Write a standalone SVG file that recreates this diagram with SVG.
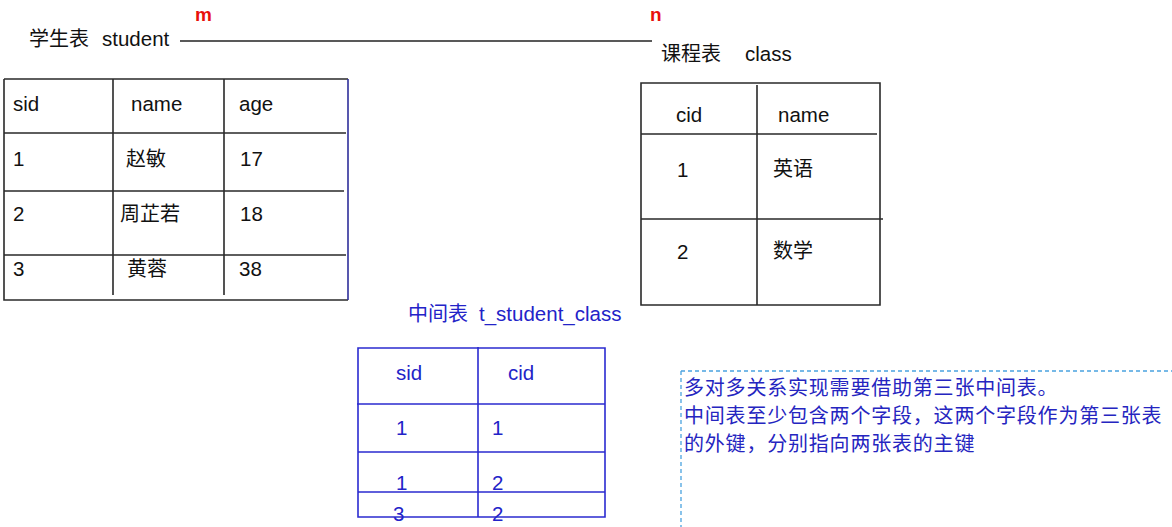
<svg xmlns="http://www.w3.org/2000/svg" width="1172" height="527" viewBox="0 0 1172 527">
<style>
text{font-family:"Liberation Sans","Noto Sans CJK SC",sans-serif;font-size:20.5px;fill:#111}
.cn{font-size:20px}
.red{fill:#e8100c;font-weight:bold;font-size:19px}
.blue{fill:#2323c8}
.tb{fill:none;stroke:#2a2a2a;stroke-width:1.6}
.tbb{fill:none;stroke:#2b2bd0;stroke-width:1.6}
.note{font-size:20px;letter-spacing:0.8px;fill:#2525c0}
</style>
<rect width="1172" height="527" fill="#ffffff"/>
<g id="connectors">
<line x1="180" y1="41" x2="652" y2="41" stroke="#222" stroke-width="1.3"/>
<text class="red" x="195" y="21">m</text>
<text class="red" x="650" y="21">n</text>
</g>
<g id="student">
<text class="cn" x="29" y="46">学生表</text><text x="102" y="46">student</text>
<path class="tb" d="M4 79H348M4 79V300H348M113 79V295M224 79V295M4 133H346M4 191H344M4 255H346"/>
<line x1="348" y1="79" x2="348" y2="300" stroke="#2e2e9a" stroke-width="1.6"/>
<text x="13" y="111">sid</text><text x="131" y="111">name</text><text x="239" y="111">age</text>
<text x="13" y="166">1</text><text class="cn" x="126" y="166">赵敏</text><text x="240" y="166">17</text>
<text x="13" y="221">2</text><text class="cn" x="120" y="221">周芷若</text><text x="240" y="221">18</text>
<text x="13" y="276">3</text><text class="cn" x="127" y="276">黄蓉</text><text x="239" y="276">38</text>
</g>
<g id="class">
<text class="cn" x="661" y="61">课程表</text><text x="745" y="61">class</text>
<path class="tb" d="M641 83H880V305H641ZM757 85V305M641 134H877M641 219H883"/>
<text x="676" y="122">cid</text><text x="778" y="122">name</text>
<text x="677" y="177">1</text><text class="cn" x="773" y="176">英语</text>
<text x="677" y="259">2</text><text class="cn" x="773" y="258">数学</text>
</g>
<g id="t_student_class">
<text class="blue cn" x="408" y="321">中间表</text><text class="blue" x="479" y="321">t_student_class</text>
<path class="tbb" d="M358 348H605V517H358ZM478 347V517M357 404H605M358 452H605M358 492H605"/>
<text class="blue" x="396" y="380">sid</text><text class="blue" x="508" y="380">cid</text>
<text class="blue" x="396" y="435">1</text><text class="blue" x="492" y="435">1</text>
<text class="blue" x="396" y="490">1</text><text class="blue" x="492" y="490">2</text>
<text class="blue" x="393" y="521">3</text><text class="blue" x="492" y="521">2</text>
</g>
<g id="note">
<path d="M681 371H1172M681 371V527" fill="none" stroke="#4aa3df" stroke-width="1.3" stroke-dasharray="4 3"/>
<text class="note" x="684" y="395">多对多关系实现需要借助第三张中间表。</text>
<text class="note" x="684" y="423">中间表至少包含两个字段，这两个字段作为第三张表</text>
<text class="note" x="684" y="451">的外键，分别指向两张表的主键</text>
</g>
</svg>
